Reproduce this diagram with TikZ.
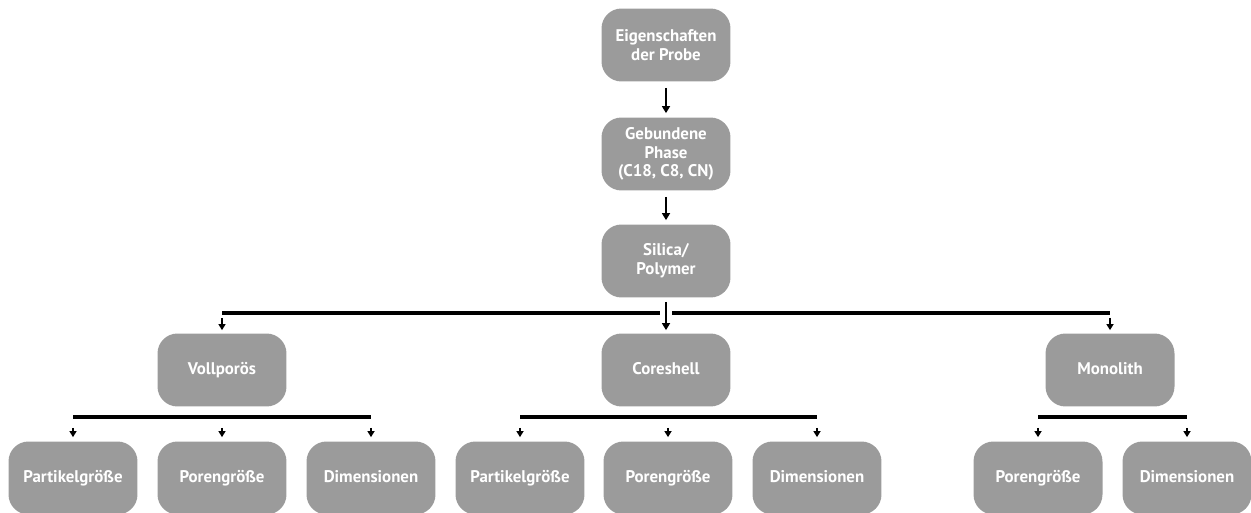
\documentclass[tikz,border=0pt]{standalone}
\usepackage{fontspec}
\setsansfont{PT Sans}
\usetikzlibrary{arrows.meta}
\definecolor{boxgray}{RGB}{155,155,155}

\begin{document}
\begin{tikzpicture}[x=0.02cm,y=-0.02cm,
  box/.style={fill=boxgray,rounded corners=0.4cm,minimum width=2.58cm,minimum height=1.46cm,
    inner sep=0pt,align=center,text=white,font=\sffamily\bfseries\fontsize{9.6}{10.6}\selectfont},
  leaf/.style={box,text height=1.45ex,text depth=0.35ex},
  arr/.style={-{Triangle[length=4pt,width=4.5pt]},line width=1.5pt},
  sarr/.style={-{Triangle[length=3.5pt,width=4pt]},line width=1.1pt},
  bar/.style={line width=2.2pt}]
\clip (0,0) rectangle (1251,513);
% top column
\node[box] (eig) at (666,45) {Eigenschaften\\der Probe};
\node[box] (geb) at (666,154) {Gebundene\\Phase\\(C18, C8, CN)};
\node[box] (sil) at (666,261) {Silica/\\Polymer};
% second row
\node[leaf] (vp) at (222,370) {Vollporös};
\node[leaf] (cs) at (666,370) {Coreshell};
\node[leaf] (mo) at (1110,370) {Monolith};
% third row
\node[leaf] (vp1) at (73,478) {Partikelgröße};
\node[leaf] (vp2) at (222,478) {Porengröße};
\node[leaf] (vp3) at (371,478) {Dimensionen};
\node[leaf] (cs1) at (520,478) {Partikelgröße};
\node[leaf] (cs2) at (668,478) {Porengröße};
\node[leaf] (cs3) at (817,478) {Dimensionen};
\node[leaf] (mo1) at (1038,478) {Porengröße};
\node[leaf] (mo2) at (1187,478) {Dimensionen};
\coordinate (b0) at (0,313);
\coordinate (b1) at (0,417);

\draw[arr,shorten <=0.12cm,shorten >=0.08cm] (eig) -- (geb);
\draw[arr,shorten <=0.12cm,shorten >=0.08cm] (geb) -- (sil);

\draw[bar] (vp.north |- b0) -- (mo.north |- b0);
\draw[white,line width=7pt] (sil.south) -- (cs.north);
\draw[arr,shorten <=0.08cm,shorten >=0.06cm] (sil) -- (cs);
\draw[sarr,shorten <=0.1cm,shorten >=0.06cm] (vp.north |- b0) -- (vp);
\draw[sarr,shorten <=0.1cm,shorten >=0.06cm] (mo.north |- b0) -- (mo);

\draw[bar] (vp1.north |- b1) -- (vp3.north |- b1);
\draw[bar] (cs1.north |- b1) -- (cs3.north |- b1);
\draw[bar] (mo1.north |- b1) -- (mo2.north |- b1);
\foreach \n in {vp1,vp2,vp3,cs1,cs2,cs3,mo1,mo2}
  \draw[sarr,shorten <=0.22cm,shorten >=0.08cm] (\n.north |- b1) -- (\n);
\end{tikzpicture}
\end{document}
